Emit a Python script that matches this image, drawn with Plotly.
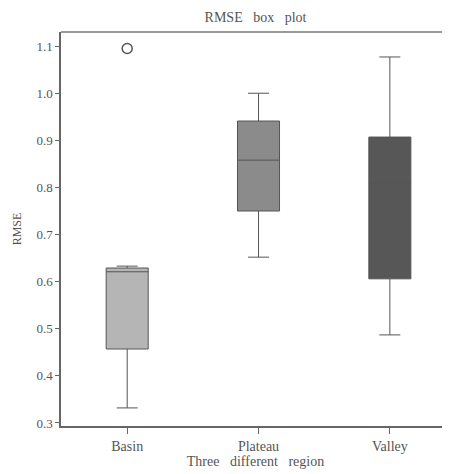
import plotly.graph_objects as go

categories = ["Basin", "Plateau", "Valley"]
lower = [0.332, 0.652, 0.487]
q1 = [0.457, 0.750, 0.606]
median = [0.621, 0.858, 0.810]
q3 = [0.629, 0.941, 0.907]
upper = [0.633, 1.000, 1.077]
fills = ["#b5b5b5", "#8b8b8b", "#575757"]
outlier_cat = ["Basin"]
outlier_val = [1.095]
ytick_vals = [0.3, 0.4, 0.5, 0.6, 0.7, 0.8, 0.9, 1.0, 1.1]
ytick_text = ["0.3", "0.4", "0.5", "0.6", "0.7", "0.8", "0.9", "1.0", "1.1"]

fig = go.Figure()
for i, c in enumerate(categories):
    fig.add_trace(go.Box(
        x=[c], q1=[q1[i]], median=[median[i]], q3=[q3[i]],
        lowerfence=[lower[i]], upperfence=[upper[i]],
        fillcolor=fills[i], line=dict(color="#555555", width=1),
        width=0.32, whiskerwidth=0.5, boxpoints=False, showlegend=False,
        hoverinfo="skip"))

fig.add_trace(go.Scatter(
    x=outlier_cat, y=outlier_val, mode="markers",
    marker=dict(symbol="circle-open", size=10, color="#555555", line=dict(width=1.5)),
    showlegend=False, hoverinfo="skip"))

font_family = "Liberation Serif, Times New Roman, serif"
W, H = 442, 466
fig.update_layout(
    width=W, height=H,
    margin=dict(l=53, r=0, t=24, b=48),
    plot_bgcolor="white", paper_bgcolor="white",
    font=dict(family=font_family, size=13, color="#555555"),
    title=dict(text="RMSE   box   plot", x=0.56, xanchor="center", y=1 - 9 / H, yanchor="middle",
               font=dict(family=font_family, size=14, color="#555555")),
    xaxis=dict(type="category", categoryorder="array", categoryarray=categories,
               range=[-0.504, 2.458], showline=True, linecolor="#666666", linewidth=1.5,
               ticks="outside", ticklen=6, tickcolor="#666666", showgrid=False, zeroline=False,
               tickfont=dict(size=14), ticklabelstandoff=0,
               title=dict(text="Three   different   region", standoff=4,
                          font=dict(family=font_family, size=14, color="#555555"))),
    yaxis=dict(range=[0.2936, 1.130], tickvals=ytick_vals, ticktext=ytick_text,
               showline=True, linecolor="#666666", linewidth=1.5,
               ticks="outside", ticklen=4, tickcolor="#666666", showgrid=False, zeroline=False,
               tickfont=dict(size=13),
               title=dict(text="RMSE", standoff=12,
                          font=dict(family=font_family, size=12, color="#555555"))),
)
fig.add_shape(type="line", xref="paper", yref="paper", x0=0, x1=1, y0=1, y1=1,
              line=dict(color="#777777", width=1.5))

fig.write_html("out.html")
